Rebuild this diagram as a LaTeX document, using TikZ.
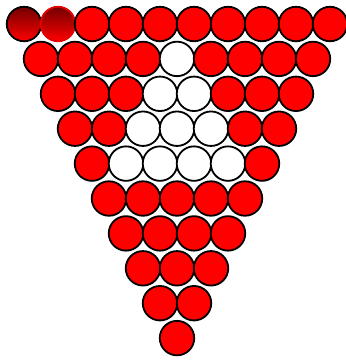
\documentclass[tikz,border=0pt]{standalone}
\begin{document}
\begin{tikzpicture}[x=1pt,y=-1pt,
    ball/.style={circle,draw,line width=1.8pt,fill=red,minimum size=34.5pt,inner sep=0pt},
    hole/.style={ball,fill=white},
    dark/.style={ball,top color=red!45!black,bottom color=red},
    darkrim/.style={dark,draw=red!90!black}]
\useasboundingbox (0,0) rectangle (346,360);
\foreach \r in {0,...,9}{
    \pgfmathtruncatemacro\last{9-\r}
    \foreach \k in {0,...,\last}{
        \def\sty{ball}
        % the white hole in the middle
        \ifnum\r>0 \ifnum\r<5 \ifnum\k>\numexpr4-\r\relax \ifnum\k<5 \def\sty{hole}\fi\fi\fi\fi
        \ifnum\r=0 \ifnum\k=0 \def\sty{dark}\fi\ifnum\k=1 \def\sty{darkrim}\fi\fi
        \node[\sty] (b\r-\k) at ({24+17*\r+34*\k},{24+34.9*\r}) {};
    }
}
\end{tikzpicture}
\end{document}
